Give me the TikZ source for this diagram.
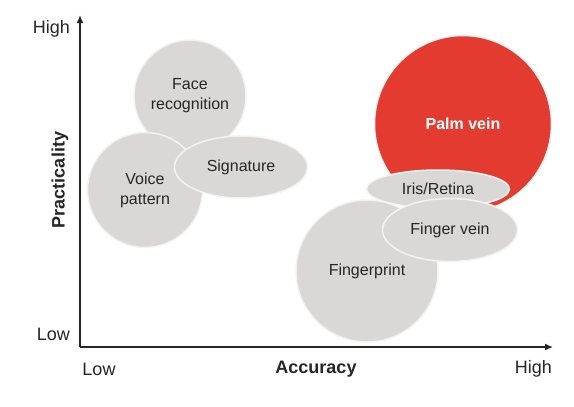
\documentclass[tikz,border=0pt]{standalone}
\usepackage{fontspec}
\setmainfont{Liberation Sans}
\usetikzlibrary{arrows.meta,shapes.geometric}
\definecolor{Bubble}{HTML}{D9D8D6}
\definecolor{Rim}{HTML}{F3F3F2}
\definecolor{Palm}{HTML}{E43B30}
\definecolor{Ink}{HTML}{262626}

\begin{document}
\begin{tikzpicture}[x=1pt,y=-1pt,every node/.style={font=\fontsize{16}{20}\selectfont,align=center,text=Ink,inner sep=0pt}]
  \useasboundingbox (0,0) rectangle (574,407);
  % axes
  \coordinate (o) at (80,347);
  \coordinate (ytop) at (80,15);
  \coordinate (xend) at (553,347);
  \draw[-{Latex[length=8pt,width=7pt]},line width=1.4pt,Ink] (o)--(ytop);
  \draw[-{Latex[length=8pt,width=7pt]},line width=1.4pt,Ink] (o)--(xend);
  \node[anchor=east,font=\fontsize{18}{20}\selectfont] (yhigh) at (70,29) {High};
  \node[anchor=east,font=\fontsize{18}{20}\selectfont] (ylow) at (70,334) {Low};
  \node[rotate=90,font=\bfseries\fontsize{18}{20}\selectfont] (ytitle) at (60,180) {Practicality};
  \node[font=\fontsize{18}{20}\selectfont] (xlow) at (99,369) {Low};
  \node[font=\bfseries\fontsize{18}{20}\selectfont] (xtitle) at (316,369) {Accuracy};
  \node[anchor=east,font=\fontsize{18}{20}\selectfont] (xhigh) at (552,369) {High};
  % left group
  \node[circle,draw=Rim,line width=1.5pt,fill=Bubble,minimum size=112pt] (face) at (190,96) {Face\\recognition};
  \node[circle,draw=Rim,line width=1.5pt,fill=Bubble,minimum size=115pt] (voice) at (145,190) {Voice\\pattern};
  \node[ellipse,draw=Rim,line width=1.5pt,fill=Bubble,minimum width=133pt,minimum height=62pt] (sign) at (241,167) {Signature};
  % right group
  \node[circle,draw=Rim,line width=1.5pt,fill=Palm,minimum size=177pt,text=white,font=\bfseries\fontsize{16}{20}\selectfont] (palm) at (463,124) {Palm vein};
  \node[circle,draw=Rim,line width=1.5pt,fill=Bubble,minimum size=142pt] (print) at (367,271) {Fingerprint};
  \node[ellipse,draw=Rim,line width=1.5pt,fill=Bubble,minimum width=143pt,minimum height=38pt] (iris) at (438,189) {Iris/Retina};
  \node[ellipse,draw=Rim,line width=1.5pt,fill=Bubble,minimum width=135pt,minimum height=63pt] (fvein) at (450,230) {Finger vein};
\end{tikzpicture}
\end{document}
